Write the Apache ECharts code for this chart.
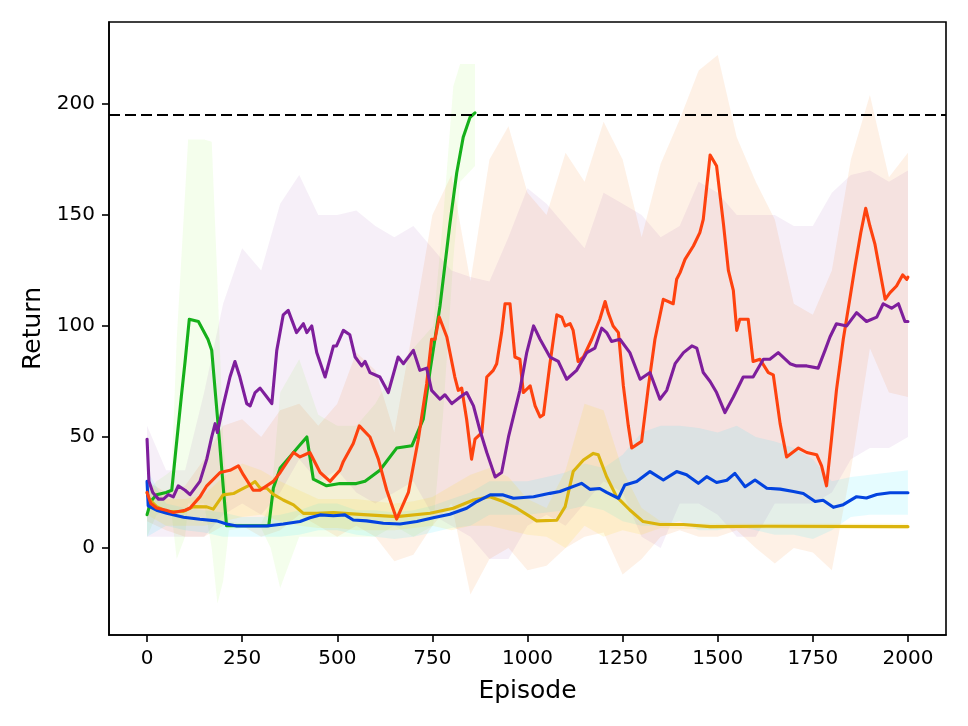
<!DOCTYPE html>
<html><head><meta charset="utf-8">
<script src="https://cdn.jsdelivr.net/npm/echarts@6/dist/echarts.min.js"></script>
<style>html,body{margin:0;padding:0;background:#fff}#c{width:968px;height:726px}</style>
</head><body><div id="c"></div>
<script>
// ---- tick labels ----
const xTicks = [0, 250, 500, 750, 1000, 1250, 1500, 1750, 2000];
const yTicks = [0, 50, 100, 150, 200];
const targetReturn = 195;

// ---- mean curves ----
const greenEp  = [0,10,25,50,65,75,90,100,111,135,160,170,180,190,200,209,250,300,320,332,350,375,400,420,437,472,507,550,573,612,656,696,726,744,770,796,814,831,849,862];
const greenRet = [15,21,24,25,26,43,68,84,103,102,94,89,69,49,28,10,10,10,10,27,36,41,46,50,31,28,29,29,30,35,45,46,58,80,109,146,169,185,194,196];

const orangeEp  = [0,10,25,50,69,100,113,139,157,192,218,240,253,279,297,332,350,385,402,428,455,481,507,516,542,558,586,608,630,656,687,713,735,748,757,768,788,809,818,827,840,853,862,880,893,910,919,932,941,954,967,980,989,1007,1020,1033,1042,1059,1077,1090,1099,1112,1120,1133,1147,1169,1190,1204,1212,1225,1239,1252,1265,1274,1291,1300,1318,1335,1357,1383,1392,1401,1414,1436,1453,1462,1480,1497,1515,1528,1541,1550,1558,1580,1593,1611,1633,1646,1664,1681,1712,1734,1760,1773,1786,1799,1812,1830,1848,1861,1876,1889,1900,1913,1926,1940,1953,1970,1986,1997,2000];
const orangeRet = [25,20,18,17,16,17,18,23,28,34,35,37,33,26,26,30,34,43,41,43,34,30,35,39,47,55,50,40,26,13,25,49,74,94,94,104,95,77,71,72,58,40,49,52,77,80,83,97,110,110,86,85,70,73,64,59,60,83,105,104,100,101,98,84,86,94,103,111,106,100,97,73,55,45,47,48,73,94,112,110,121,124,130,136,142,148,177,172,146,125,116,98,103,103,84,85,79,78,56,41,45,43,42,37,28,49,71,94,113,127,142,153,145,137,125,112,115,118,123,121,122];

const purpleEp  = [0,5,15,30,43,56,69,82,100,113,139,157,170,179,185,200,218,231,244,262,271,284,297,315,328,341,358,371,393,411,420,433,446,468,490,498,516,533,547,564,573,586,612,634,660,674,700,717,735,748,770,783,801,823,840,858,875,893,915,932,950,967,980,998,1016,1033,1059,1081,1103,1129,1156,1177,1195,1208,1221,1243,1269,1296,1322,1348,1366,1388,1410,1432,1445,1462,1480,1497,1519,1541,1567,1593,1620,1637,1659,1690,1707,1734,1764,1782,1795,1812,1839,1865,1891,1918,1935,1957,1975,1992,2000];
const purpleRet = [49,30,25,22,22,24,23,28,26,24,30,40,50,56,52,64,77,84,77,65,64,70,72,68,65,89,105,107,97,101,97,100,88,77,91,91,98,96,86,82,84,79,77,70,86,83,89,80,81,71,67,69,65,68,70,64,53,43,32,34,50,62,71,88,100,94,86,84,76,80,88,90,99,97,93,94,88,76,79,67,71,83,88,91,90,79,75,70,61,68,77,77,85,85,88,83,82,82,81,89,95,101,100,106,102,104,110,108,110,102,102];

const blueEp  = [0,3,25,52,96,139,183,209,236,315,358,402,428,455,490,520,542,577,621,665,709,752,796,840,867,902,936,963,1016,1059,1085,1142,1164,1190,1208,1239,1256,1287,1322,1357,1392,1418,1449,1471,1497,1524,1545,1572,1598,1629,1664,1699,1725,1756,1777,1804,1830,1865,1891,1918,1953,2000];
const blueRet = [30,19,17,15.6,13.8,12.9,12.2,10.8,9.9,9.9,10.8,11.9,13.6,14.9,14.5,14.9,12.6,12.2,11.1,10.8,11.9,13.6,15.2,17.9,20.9,23.9,23.9,22.4,23.1,24.6,25.4,29.1,26.4,26.8,25,22.4,28.4,29.9,34.4,30.6,34.4,33,29.1,32.1,29.5,30.5,33.6,27.6,30.6,26.9,26.5,25.4,24.5,20.9,21.5,18.3,19.5,23.1,22.5,24.1,24.9,24.9];

const yellowEp  = [0,5,25,52,96,122,157,174,200,227,244,271,284,297,315,332,358,385,411,446,490,569,656,744,805,858,901,936,972,1007,1024,1077,1099,1120,1147,1173,1186,1208,1234,1269,1304,1348,1410,1480,1629,2000];
const yellowRet = [25,22,18.6,16.4,16.5,18.6,18.5,17.5,23.9,24.5,26.1,28.4,29.9,27,26.9,24.1,21.6,19.4,15.6,15.6,15.9,15,14.1,15.6,17.9,21.6,23.1,20.9,17.9,14.1,12.2,12.5,18.6,34.4,39.6,42.6,42,32.1,23.1,17.1,11.9,10.6,10.6,9.6,9.8,9.6];

// ---- spread bands ----
const greenBandEp = [0,25,50,65,78,100,108,150,170,185,200,215,250,300,325,350,400,450,500,550,600,650,700,752,778,805,823,862];
const greenUpper  = [25,30,33,35,94,160,184,184,183,120,50,12,11,11,20,70,85,60,55,55,65,80,90,100,148,208,218,218];
const greenLower  = [5,15,17,15,-5,5,20,20,0,-25,-15,8,9,9,0,-18,5,5,5,5,5,10,5,10,60,130,165,172];

const bandEp = [0,50,100,150,200,250,300,350,400,450,500,550,600,650,700,750,800,850,900,950,1000,1050,1100,1150,1200,1250,1300,1350,1400,1450,1500,1550,1600,1650,1700,1750,1800,1850,1900,1950,2000];
const orangeUpper = [30,25,28,40,55,58,50,62,65,55, 65,88,80,52,100,150,168,120,175,190, 160,150,178,165,192,175,140,173,193,215, 222,185,165,148,110,105,125,175,204,167, 178];
const orangeLower = [12,8,5,5,10,10,5,8,15,10, 5,10,5,-6,-3,10,20,-21,-5,0, -10,-8,0,5,7,-12,-5,5,8,5, 5,8,0,-7,0,-2,-10,35,90,70, 68];
const purpleUpper = [55,35,35,70,110,135,125,155,168,150, 150,152,145,140,145,135,125,122,120,140, 162,155,145,135,160,155,150,140,145,165, 160,150,150,150,145,145,160,168,170,165, 170];
const purpleLower = [5,5,5,5,15,20,15,25,40,30, 35,25,20,25,30,15,10,5,-5,-5, 10,15,10,20,30,25,5,0,20,20, 15,5,5,20,20,20,25,40,45,45, 50];
const blueUpper = [35,20,18,17,16,14,14,15,17,20, 20,17,17,16,17,19,22,25,30,30, 30,32,34,38,36,42,52,55,55,54, 52,55,50,48,45,40,30,32,33,34, 35];
const blueLower = [5,10,8,7,5,5,5,5,6,8, 8,6,5,4,5,7,9,10,15,15, 15,16,17,19,17,12,10,10,12,8, 8,10,8,6,6,4,8,14,15,15, 15];
const yellowUpper = [30,22,22,24,32,38,35,30,26,22, 22,22,21,20,21,23,28,33,36,32, 22,18,35,65,62,35,18,12,11,11, 11,11,11,11,11,11,11,11,11,11, 11];
const yellowLower = [15,10,10,10,12,14,15,12,10,9, 9,8,8,8,9,10,8,10,10,8, 6,5,0,10,5,8,6,9,8.5,8.5, 8.5,8.5,8.5,8.5,8.5,8.5,8.5,8.5,8.5,8.5, 8.5];

function pairs(xs, ys) { return xs.map((x, i) => [x, ys[i]]); }

// Band drawn as one polygon through the cartesian coordinate system
function band(xs, lo, hi, color) {
  return {
    type: 'custom', silent: true, z: 1, clip: true,
    encode: { x: 0, y: [1, 2] },
    data: xs.map((x, i) => [x, lo[i], hi[i]]),
    renderItem: function (params, api) {
      if (params.dataIndexInside !== 0) return null;
      const n = params.dataInsideLength;
      const top = [], bot = [];
      for (let i = 0; i < n; i++) {
        const x = api.value(0, i);
        top.push(api.coord([x, api.value(2, i)]));
        bot.push(api.coord([x, api.value(1, i)]));
      }
      const pts = top.concat(bot.reverse());
      return { type: 'polygon', shape: { points: pts }, style: { fill: color, stroke: null } };
    }
  };
}
function curve(xs, ys, color, z) {
  return { type: 'line', data: pairs(xs, ys), symbol: 'none', silent: true, z: z,
    lineStyle: { color: color, width: 3.1, join: 'round', cap: 'round' } };
}

const series = [
  band(greenBandEp, greenLower, greenUpper, 'rgba(130,240,40,0.09)'),
  band(bandEp, orangeLower, orangeUpper, 'rgba(249,115,6,0.10)'),
  band(bandEp, purpleLower, purpleUpper, 'rgba(126,30,156,0.07)'),
  band(bandEp, blueLower, blueUpper, 'rgba(0,230,255,0.10)'),
  band(bandEp, yellowLower, yellowUpper, 'rgba(255,215,0,0.12)'),
  curve(greenEp, greenRet, '#15b01a', 3),
  curve(yellowEp, yellowRet, '#dbb40c', 4),
  curve(blueEp, blueRet, '#0343df', 5),
  curve(orangeEp, orangeRet, '#fe420f', 6),
  curve(purpleEp, purpleRet, '#7e1e9c', 7),
  { type: 'line', data: [], silent: true, z: 8,
    markLine: { symbol: 'none', silent: true, animation: false, label: { show: false },
      lineStyle: { color: '#000', width: 1.9, type: [11, 5] },
      data: [{ yAxis: targetReturn }] } }
];

const FONT = 'DejaVu Sans';
const fmt = v => String(v);
const chart = echarts.init(document.getElementById('c'), null, { renderer: 'canvas' });
chart.setOption({
  animation: false,
  backgroundColor: '#fff',
  grid: { left: 109, right: 22, top: 22, bottom: 91, containLabel: false,
          show: true, borderColor: '#000', borderWidth: 1.6, backgroundColor: 'transparent' },
  xAxis: {
    type: 'value', min: -100, max: 2100,
    name: 'Episode', nameLocation: 'middle', nameGap: 44,
    nameTextStyle: { fontFamily: FONT, fontSize: 25, color: '#000' },
    axisLine: { show: true, onZero: false, lineStyle: { color: '#000', width: 1.6 } },
    axisTick: { show: true, inside: false, length: 7, customValues: xTicks, lineStyle: { color: '#000', width: 1.6 } },
    axisLabel: { customValues: xTicks, formatter: fmt, margin: 14, fontFamily: FONT, fontSize: 20, color: '#000' },
    splitLine: { show: false }
  },
  yAxis: {
    type: 'value', min: -39.2, max: 236.9,
    name: 'Return', nameLocation: 'middle', nameGap: 63, nameRotate: 90,
    nameTextStyle: { fontFamily: FONT, fontSize: 25, color: '#000' },
    axisLine: { show: true, onZero: false, lineStyle: { color: '#000', width: 1.6 } },
    axisTick: { show: true, inside: false, length: 7, customValues: yTicks, lineStyle: { color: '#000', width: 1.6 } },
    axisLabel: { customValues: yTicks, formatter: fmt, margin: 14, fontFamily: FONT, fontSize: 20, color: '#000' },
    splitLine: { show: false }
  },
  series: series
});
</script>
</body></html>
